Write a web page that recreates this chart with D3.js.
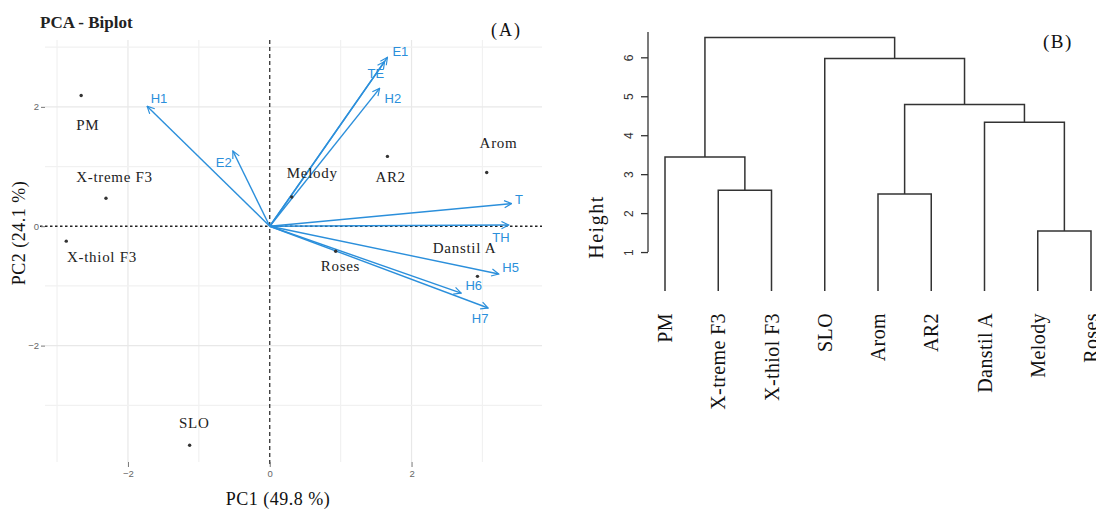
<!DOCTYPE html>
<html>
<head>
<meta charset="utf-8">
<script src="https://cdn.jsdelivr.net/npm/d3@7"></script>
<style>
  body { margin: 0; background: #fff; }
  svg { display: block; }
</style>
</head>
<body>
<svg></svg>
<script>
// ---- (A) PCA biplot ----
var samples = ["PM", "X-treme F3", "X-thiol F3", "SLO", "Melody", "AR2", "Arom", "Roses", "Danstil A"]
var samplePC1 = [-2.66, -2.31, -2.87, -1.13, 0.31, 1.66, 3.06, 0.93, 2.93]
var samplePC2 = [2.19, 0.47, -0.25, -3.67, 0.49, 1.17, 0.90, -0.42, -0.84]
// repelled label spots (PC units)
var sampleLabPC1 = [-2.73, -2.73, -2.86, -1.28, 0.24, 1.49, 2.96, 0.72, 2.30]
var sampleLabPC2 = [1.61, 0.74, -0.60, -3.38, 0.80, 0.74, 1.31, -0.75, -0.45]

var variables = ["H1", "E2", "E1", "TE", "H2", "T", "TH", "H5", "H6", "H7"]
var varPC1 = [-1.73, -0.52, 1.66, 1.62, 1.55, 3.41, 3.37, 3.23, 2.70, 3.08]
var varPC2 = [2.01, 1.26, 2.83, 2.76, 2.31, 0.38, 0.02, -0.80, -1.12, -1.37]
var varLabPC1 = [-1.68, -0.76, 1.73, 1.38, 1.62, 3.46, 3.14, 3.28, 2.76, 2.85]
var varLabPC2 = [2.06, 1.00, 2.85, 2.49, 2.06, 0.38, -0.27, -0.77, -1.07, -1.62]

var pcaTicks = [-2, 0, 2]
var gridX = [-3, -2, -1, 1, 2, 3]
var gridY = [-3, -2, -1, 1, 2, 3]

// ---- (B) dendrogram ----
var leaves = ["PM", "X-treme F3", "X-thiol F3", "SLO", "Arom", "AR2", "Danstil A", "Melody", "Roses"]
// hclust style: negative = leaf (1-based), positive = earlier merge
var mergeLeft = [-8, -5, -2, -1, -7, 2, -4, 4]
var mergeRight = [-9, -6, -3, 3, 1, 5, 6, 7]
var mergeHeight = [1.54, 2.49, 2.59, 3.44, 4.33, 4.79, 5.97, 6.51]
var heightTicks = [1, 2, 3, 4, 5, 6]

var W = 1096, H = 509
var svg = d3.select("svg").attr("width", W).attr("height", H)
var serif = "'Liberation Serif', 'Times New Roman', serif"
var sans = "'Liberation Sans', Arial, sans-serif"
var narrow = "'Liberation Sans Narrow', 'Liberation Sans', Arial, sans-serif"
var blue = "#2b8fdb"

// ================= panel A =================
var x = d3.scaleLinear().domain([-3.17, 3.84]).range([45, 542])
var y = d3.scaleLinear().domain([-3.95, 3.12]).range([462, 40])

var gA = svg.append("g")

gA.selectAll(".gx").data(gridX).enter().append("line")
    .attr("x1", d => x(d)).attr("x2", d => x(d))
    .attr("y1", y.range()[1]).attr("y2", y.range()[0])
    .attr("stroke", d => d % 2 == 0 ? "#e8e8e8" : "#f1f1f1").attr("stroke-width", 1.2)
gA.selectAll(".gy").data(gridY).enter().append("line")
    .attr("y1", d => y(d)).attr("y2", d => y(d))
    .attr("x1", x.range()[0]).attr("x2", x.range()[1])
    .attr("stroke", d => d % 2 == 0 ? "#e8e8e8" : "#f1f1f1").attr("stroke-width", 1.2)

// zero lines
gA.append("line")
    .attr("x1", x(0)).attr("x2", x(0)).attr("y1", y.range()[1]).attr("y2", y.range()[0] + 5)
    .attr("stroke", "#222").attr("stroke-width", 1.2).attr("stroke-dasharray", "4,3")
gA.append("line")
    .attr("y1", y(0)).attr("y2", y(0)).attr("x1", x.range()[0] - 5).attr("x2", x.range()[1])
    .attr("stroke", "#222").attr("stroke-width", 1.4).attr("stroke-dasharray", "2.5,2.5")

// axes
var xAxis = gA.append("g").attr("transform", "translate(0," + y.range()[0] + ")")
    .call(d3.axisBottom(x).tickValues(pcaTicks).tickSize(5).tickPadding(3).tickFormat(d3.format("d")))
var yAxis = gA.append("g").attr("transform", "translate(" + x.range()[0] + ",0)")
    .call(d3.axisLeft(y).tickValues(pcaTicks).tickSize(4).tickPadding(2).tickFormat(d3.format("d")))
gA.selectAll(".domain").remove()
gA.selectAll(".tick line").attr("stroke", "#777")
gA.selectAll(".tick text").attr("fill", "#666").style("font-family", sans).style("font-size", "9.5px")

// arrow marker
svg.append("defs").append("marker")
    .attr("id", "arr").attr("viewBox", "0 0 10 10").attr("refX", 9).attr("refY", 5)
    .attr("markerWidth", 9).attr("markerHeight", 9).attr("markerUnits", "userSpaceOnUse")
    .attr("orient", "auto")
    .append("path").attr("d", "M1,1 L9,5 L1,9").attr("fill", "none")
    .attr("stroke", blue).attr("stroke-width", 1.3)

var vars = variables.map((v, i) => ({name: v, pc1: varPC1[i], pc2: varPC2[i], lx: varLabPC1[i], ly: varLabPC2[i]}))
gA.selectAll(".arrow").data(vars).enter().append("line")
    .attr("x1", x(0)).attr("y1", y(0))
    .attr("x2", d => x(d.pc1)).attr("y2", d => y(d.pc2))
    .attr("stroke", blue).attr("stroke-width", 1.4)
    .attr("marker-end", "url(#arr)")
gA.selectAll(".vlab").data(vars).enter().append("text")
    .attr("x", d => x(d.lx)).attr("y", d => y(d.ly))
    .text(d => d.name)
    .attr("fill", blue).style("font-family", narrow).style("font-stretch", "condensed")
    .style("font-size", "13px")

var pts = samples.map((s, i) => ({name: s, pc1: samplePC1[i], pc2: samplePC2[i], lx: sampleLabPC1[i], ly: sampleLabPC2[i]}))
gA.selectAll(".pt").data(pts).enter().append("circle")
    .attr("cx", d => x(d.pc1)).attr("cy", d => y(d.pc2)).attr("r", 1.7)
    .attr("fill", "#333")
gA.selectAll(".slab").data(pts).enter().append("text")
    .attr("x", d => x(d.lx)).attr("y", d => y(d.ly))
    .text(d => d.name)
    .attr("fill", "#222").style("font-family", serif).style("font-size", "15px")
    .style("letter-spacing", "0.7px")

// titles
gA.append("text").attr("x", 40).attr("y", 28).text("PCA - Biplot")
    .style("font-family", serif).style("font-weight", "bold").style("font-size", "17px").attr("fill", "#222")
gA.append("text").attr("x", 491).attr("y", 36).text("(A)")
    .style("font-family", serif).style("font-size", "18px").style("letter-spacing", "2px").attr("fill", "#111")
gA.append("text").attr("x", 278).attr("y", 505).attr("text-anchor", "middle").text("PC1 (49.8 %)")
    .style("font-family", serif).style("font-size", "18px").style("letter-spacing", "0.5px").attr("fill", "#111")
gA.append("text").attr("transform", "translate(25,233) rotate(-90)").attr("text-anchor", "middle")
    .text("PC2 (24.1 %)")
    .style("font-family", serif).style("font-size", "18px").style("letter-spacing", "0.5px").attr("fill", "#111")

// ================= panel B =================
var xD = d3.scalePoint().domain(leaves).range([665, 1091])
var yD = d3.scaleLinear().domain([0, 6.65]).range([291, 32])

var gB = svg.append("g")
var nodes = []
function pos(c) {
    if (c < 0) return {x: xD(leaves[-c - 1]), y: yD(0)}
    return nodes[c - 1]
}
mergeHeight.forEach((h, i) => {
    var a = pos(mergeLeft[i]), b = pos(mergeRight[i])
    var yh = yD(h)
    nodes.push({x: (a.x + b.x) / 2, y: yh})
    gB.append("path")
        .attr("d", "M" + a.x + "," + a.y + "V" + yh + "H" + b.x + "V" + b.y)
        .attr("fill", "none").attr("stroke", "#333").attr("stroke-width", 1.5)
})

var hAxis = gB.append("g").attr("transform", "translate(648,0)")
    .call(d3.axisLeft(yD).tickValues(heightTicks).tickSize(7).tickFormat(d3.format("d")))
hAxis.select(".domain").remove()
hAxis.append("line").attr("x1", 0).attr("x2", 0).attr("y1", yD(1)).attr("y2", yD(6.65))
    .attr("stroke", "#333").attr("stroke-width", 1.3)
hAxis.selectAll(".tick line").attr("stroke", "#333").attr("stroke-width", 1.3)
hAxis.selectAll(".tick text")
    .attr("x", null).attr("dy", null)
    .attr("transform", "translate(-15,0) rotate(-90)")
    .attr("text-anchor", "middle")
    .attr("fill", "#333").style("font-family", sans).style("font-size", "12px")

gB.append("text").attr("transform", "translate(603,227) rotate(-90)").attr("text-anchor", "middle")
    .text("Height")
    .style("font-family", serif).style("font-size", "20px").style("letter-spacing", "1.5px").attr("fill", "#111")

gB.selectAll(".leaf").data(leaves).enter().append("text")
    .attr("transform", d => "translate(" + (xD(d) + 7) + ",313) rotate(-90)")
    .attr("text-anchor", "end")
    .text(d => d)
    .style("font-family", serif).style("font-size", "20px").style("letter-spacing", "0.4px").attr("fill", "#111")

gB.append("text").attr("x", 1043).attr("y", 48).text("(B)")
    .style("font-family", serif).style("font-size", "19px").style("letter-spacing", "1.5px").attr("fill", "#111")
</script>
</body>
</html>
